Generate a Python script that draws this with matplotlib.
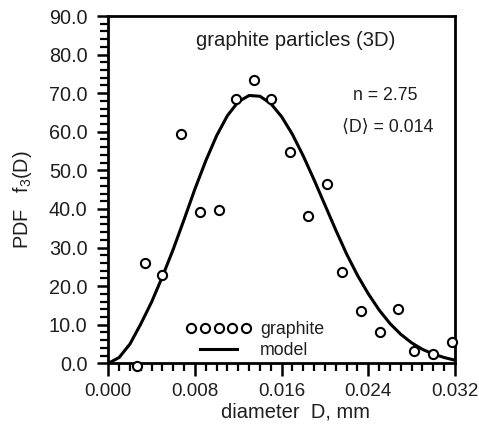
import matplotlib
matplotlib.use("Agg")
import matplotlib.pyplot as plt
from matplotlib.ticker import MultipleLocator, FormatStrFormatter
from matplotlib.legend_handler import HandlerLine2D

plt.rcParams['font.family'] = ['Liberation Sans', 'DejaVu Sans']
plt.rcParams['mathtext.default'] = 'regular'

# measured data (diameter in mm, PDF)
diam_data = [0.00262, 0.00339, 0.00498, 0.00671, 0.00846, 0.01022, 0.01179,
             0.01342, 0.01502, 0.01677, 0.01846, 0.02016, 0.02160, 0.02332,
             0.02505, 0.02671, 0.02824, 0.02994, 0.03170]
pdf_data = [-0.6, 25.9, 22.9, 59.4, 39.2, 39.8, 68.4,
            73.3, 68.5, 54.8, 38.2, 46.5, 23.6, 13.6,
            8.0, 14.0, 3.1, 2.3, 5.6]

# model curve
diam_model = [0.000, 0.001, 0.002, 0.003, 0.004, 0.005, 0.006, 0.007, 0.008,
              0.009, 0.010, 0.011, 0.012, 0.013, 0.014, 0.015, 0.016, 0.017,
              0.018, 0.019, 0.020, 0.021, 0.022, 0.023, 0.024, 0.025, 0.026,
              0.027, 0.028, 0.029, 0.030, 0.031, 0.032]
pdf_model = [0.0, 1.5, 5.0, 10.2, 15.9, 22.5, 29.6, 37.3, 45.2,
             52.5, 59.0, 64.2, 67.8, 69.4, 69.2, 67.3, 63.9, 59.3,
             53.7, 47.5, 41.0, 34.5, 28.3, 22.8, 18.0, 13.8, 10.3,
             7.5, 5.3, 3.6, 2.4, 1.5, 0.8]

xticks = [0.000, 0.008, 0.016, 0.024, 0.032]
yticks = [0, 10, 20, 30, 40, 50, 60, 70, 80, 90]

txt = '#1e1e1e'
fig = plt.figure(figsize=(4.79, 4.30), dpi=100)
ax = fig.add_axes([108.3/479, 1-363.3/430, 346.7/479, 347.3/430])

pts, = ax.plot(diam_data, pdf_data, linestyle='none', marker='o', markersize=6.6,
               markerfacecolor='white', markeredgecolor='black', markeredgewidth=1.5,
               clip_on=False, zorder=3, label='graphite')
ax.plot(diam_model, pdf_model, color='black', linewidth=2.2, zorder=2,
        label='model')

ax.set_xlim(0, 0.032)
ax.set_ylim(0, 90)
ax.set_xticks(xticks)
ax.set_yticks(yticks)
ax.xaxis.set_major_formatter(FormatStrFormatter('%.3f'))
ax.yaxis.set_major_formatter(FormatStrFormatter('%.1f'))
ax.xaxis.set_minor_locator(MultipleLocator(0.001))
ax.yaxis.set_minor_locator(MultipleLocator(2))

for s in ax.spines.values():
    s.set_linewidth(2.0)
ax.tick_params(which='major', direction='out', width=1.8, labelcolor=txt)
ax.tick_params(which='minor', direction='out', width=1.6)
ax.tick_params(axis='y', which='major', length=8, labelsize=14.3, pad=7)
ax.tick_params(axis='y', which='minor', length=5.5)
ax.tick_params(axis='x', which='major', length=9, labelsize=13.6, pad=5)
ax.tick_params(axis='x', which='minor', length=5.5)

ax.set_xlabel('diameter  D, mm', fontsize=14.5, color=txt)
ax.xaxis.set_label_coords(0.54, -0.112)
ax.set_ylabel('PDF   f$_3$(D)', fontsize=14.3, color=txt)
ax.yaxis.set_label_coords(-0.215, 0.47)

ax.text(0.54, 0.93, 'graphite particles (3D)', transform=ax.transAxes,
        ha='center', va='center', fontsize=14.6, color=txt)
ax.text(0.80, 0.77, 'n = 2.75', transform=ax.transAxes,
        ha='center', va='center', fontsize=12.8, color=txt)
ax.text(0.805, 0.68, '\u27e8D\u27e9 = 0.014', transform=ax.transAxes,
        ha='center', va='center', fontsize=12.8, color=txt)

leg = ax.legend(loc='upper left', bbox_to_anchor=(0.25, 0.122), frameon=False,
                numpoints=5, handlelength=2.65, handletextpad=1.0,
                labelspacing=0.22, fontsize=12.8, borderpad=0, borderaxespad=0,
                handler_map={pts: HandlerLine2D(marker_pad=-0.2)})
for t in leg.get_texts():
    t.set_color(txt)

fig.savefig('out.png', dpi=100)
